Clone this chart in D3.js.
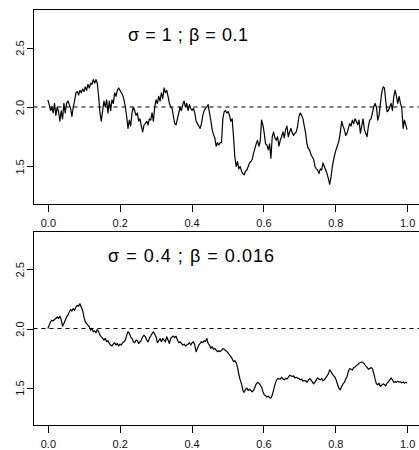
<!DOCTYPE html>
<html>
<head>
<meta charset="utf-8">
<script src="https://cdn.jsdelivr.net/npm/d3@7"></script>
<style>
  body { margin: 0; background: #fff; }
  text { font-family: "Liberation Sans", Arial, Helvetica, sans-serif; }
</style>
</head>
<body>
<div id="chart"></div>
<script>
// tick labels and reference level
const xTicks = [0, 0.2, 0.4, 0.6, 0.8, 1.0];
const yTicks = [1.5, 2.0, 2.5];
const refLevel = 2;
const titles = ["σ = 1 ; β = 0.1", "σ = 0.4 ; β = 0.016"];

// path values, evenly spaced over t in [0, 1]
const topValues = [
  2.06,2.02,1.97,2.00,1.95,2.03,1.93,2.00,1.96,1.88,
  1.97,1.90,2.03,1.95,2.03,2.05,2.02,1.99,1.92,2.00,
  2.05,2.12,2.13,2.10,2.14,2.12,2.15,2.13,2.17,2.14,
  2.19,2.16,2.20,2.19,2.23,2.20,2.23,2.20,2.09,1.95,
  1.88,1.97,2.05,2.00,2.06,1.95,2.05,1.97,2.06,2.03,
  2.12,2.09,2.14,2.16,2.14,2.12,2.10,2.06,2.00,1.92,
  1.82,1.89,1.84,1.95,2.00,1.97,1.93,1.95,1.88,1.90,
  1.84,1.79,1.85,1.86,1.88,1.85,1.90,1.89,1.95,1.88,
  2.00,2.06,2.03,2.09,2.05,2.12,2.07,2.16,2.12,2.14,
  2.09,2.03,2.00,1.99,1.92,1.86,1.85,1.90,1.95,2.00,
  1.97,2.02,2.05,2.00,2.03,1.97,2.02,1.99,1.97,1.99,
  1.95,1.88,1.86,1.84,1.82,1.86,1.93,1.97,1.99,2.00,
  2.02,1.95,1.89,1.81,1.77,1.74,1.67,1.70,1.68,1.70,
  1.70,1.90,1.96,1.97,1.95,1.96,1.93,1.88,1.90,1.75,
  1.58,1.50,1.54,1.48,1.50,1.46,1.44,1.43,1.46,1.47,
  1.50,1.53,1.54,1.56,1.61,1.65,1.69,1.72,1.67,1.71,
  1.89,1.85,1.78,1.69,1.68,1.64,1.69,1.57,1.75,1.79,
  1.74,1.72,1.75,1.67,1.72,1.75,1.79,1.74,1.81,1.84,
  1.75,1.79,1.82,1.78,1.76,1.78,1.79,1.84,1.92,1.95,
  1.93,1.90,1.84,1.78,1.69,1.65,1.64,1.60,1.58,1.56,
  1.50,1.48,1.47,1.44,1.48,1.47,1.53,1.50,1.47,1.44,
  1.40,1.35,1.41,1.50,1.56,1.61,1.65,1.68,1.72,1.79,
  1.88,1.84,1.81,1.76,1.78,1.82,1.86,1.84,1.89,1.86,
  1.90,1.88,1.85,1.89,1.78,1.84,1.90,1.81,1.78,1.75,
  1.84,1.89,1.90,1.95,2.00,2.03,2.00,1.89,1.93,2.03,
  2.12,2.17,2.16,2.05,1.96,1.97,2.00,2.03,1.97,2.09,
  2.14,2.09,2.03,2.09,2.03,1.99,1.82,1.89,1.85,1.81
];

const bottomValues = [
  2.000,2.028,2.056,2.070,2.064,2.076,2.084,2.098,2.084,2.104,
  2.076,2.020,2.042,2.070,2.098,2.112,2.140,2.160,2.148,2.168,
  2.154,2.182,2.196,2.188,2.210,2.182,2.154,2.098,2.056,2.042,
  2.028,2.014,1.986,2.000,1.972,1.980,1.964,1.992,1.972,1.944,
  1.930,1.916,1.902,1.916,1.888,1.896,1.874,1.860,1.852,1.868,
  1.880,1.860,1.874,1.852,1.868,1.860,1.880,1.888,1.902,1.944,
  1.972,1.958,1.930,1.916,1.888,1.880,1.902,1.896,1.874,1.888,
  1.902,1.930,1.944,1.930,1.902,1.888,1.916,1.936,1.958,1.972,
  1.952,1.930,1.880,1.896,1.916,1.888,1.916,1.902,1.888,1.930,
  1.902,1.874,1.916,1.930,1.936,1.924,1.936,1.902,1.880,1.888,
  1.874,1.860,1.868,1.852,1.860,1.868,1.880,1.860,1.880,1.888,
  1.860,1.804,1.832,1.860,1.874,1.888,1.880,1.896,1.888,1.916,
  1.874,1.860,1.832,1.846,1.824,1.832,1.818,1.804,1.812,1.804,
  1.815,1.829,1.826,1.815,1.804,1.793,1.776,1.762,1.745,1.720,
  1.728,1.712,1.672,1.611,1.566,1.532,1.476,1.460,1.488,1.496,
  1.476,1.488,1.476,1.465,1.476,1.504,1.530,1.544,1.538,1.524,
  1.504,1.468,1.440,1.432,1.420,1.429,1.415,1.412,1.437,1.482,
  1.524,1.558,1.577,1.574,1.572,1.588,1.572,1.566,1.580,1.572,
  1.586,1.605,1.600,1.594,1.600,1.583,1.588,1.580,1.577,1.566,
  1.572,1.555,1.560,1.558,1.544,1.563,1.577,1.566,1.549,1.532,
  1.549,1.566,1.583,1.572,1.566,1.577,1.558,1.566,1.583,1.600,
  1.616,1.650,1.636,1.616,1.600,1.588,1.560,1.524,1.493,1.482,
  1.510,1.532,1.544,1.572,1.594,1.636,1.661,1.656,1.650,1.670,
  1.675,1.686,1.695,1.706,1.712,1.717,1.712,1.700,1.684,1.672,
  1.656,1.661,1.670,1.661,1.622,1.572,1.532,1.524,1.538,1.510,
  1.521,1.532,1.527,1.516,1.538,1.549,1.566,1.583,1.566,1.544,
  1.552,1.544,1.555,1.546,1.550,1.540,1.548,1.538,1.545,1.540
];

const width = 419, height = 450;
const left = 33.5, right = 421.5;
const fontFamily = '"Liberation Sans", Arial, sans-serif';

const panels = [
  { values: topValues, title: titles[0], top: 9.5, bottom: 204.5, titleX: 128, titleY: 41, titleW: 120 },
  { values: bottomValues, title: titles[1], top: 231.5, bottom: 425.5, titleX: 108, titleY: 261.5, titleW: 166 }
];

const svg = d3.select("#chart")
  .append("svg")
  .attr("width", width)
  .attr("height", height);

// R-style 4% padding around 0..1 and 1.25..2.75
const x = d3.scaleLinear().domain([-0.04, 1.04]).range([left, right]);

panels.forEach(p => {
  const y = d3.scaleLinear().domain([1.18, 2.82]).range([p.bottom, p.top]);
  const g = svg.append("g");

  // x axis
  const xa = g.append("g")
    .attr("transform", `translate(0,${p.bottom})`)
    .call(d3.axisBottom(x).tickValues(xTicks).tickSize(7).tickFormat(d3.format(".1f")));
  xa.select(".domain").remove();
  xa.selectAll("line").attr("stroke", "#000").attr("shape-rendering", "crispEdges");
  xa.selectAll("text")
    .attr("y", 22).attr("dy", 0)
    .attr("fill", "#111")
    .attr("font-size", 11)
    .attr("font-family", fontFamily);

  // y axis with rotated labels
  const ya = g.append("g")
    .attr("transform", `translate(${left},0)`)
    .call(d3.axisLeft(y).tickValues(yTicks).tickSize(7).tickFormat(d3.format(".1f")));
  ya.select(".domain").remove();
  ya.selectAll("line").attr("stroke", "#000").attr("shape-rendering", "crispEdges");
  ya.selectAll("text")
    .attr("x", 0).attr("dy", 0)
    .attr("text-anchor", "middle")
    .attr("transform", `translate(${24 - left},0) rotate(-90)`)
    .attr("fill", "#111")
    .attr("font-size", 11)
    .attr("font-family", fontFamily);

  // reference line
  g.append("line")
    .attr("x1", left).attr("x2", right)
    .attr("y1", y(refLevel)).attr("y2", y(refLevel))
    .attr("stroke", "#000")
    .attr("stroke-width", 1)
    .attr("stroke-dasharray", "4,4");

  // path
  const n = p.values.length;
  g.append("path")
    .datum(p.values)
    .attr("fill", "none")
    .attr("stroke", "#000")
    .attr("stroke-width", 1.2)
    .attr("stroke-linejoin", "round")
    .attr("d", d3.line()
      .x((d, i) => x(i / (n - 1)))
      .y(d => y(d)));

  // box
  g.append("rect")
    .attr("x", left).attr("y", p.top)
    .attr("width", right - left).attr("height", p.bottom - p.top)
    .attr("fill", "none")
    .attr("stroke", "#000")
    .attr("shape-rendering", "crispEdges");

  // title
  g.append("text")
    .attr("x", p.titleX).attr("y", p.titleY)
    .attr("textLength", p.titleW)
    .attr("lengthAdjust", "spacing")
    .attr("font-size", 18)
    .attr("font-family", fontFamily)
    .attr("fill", "#000")
    .text(p.title);
});
</script>
</body>
</html>
